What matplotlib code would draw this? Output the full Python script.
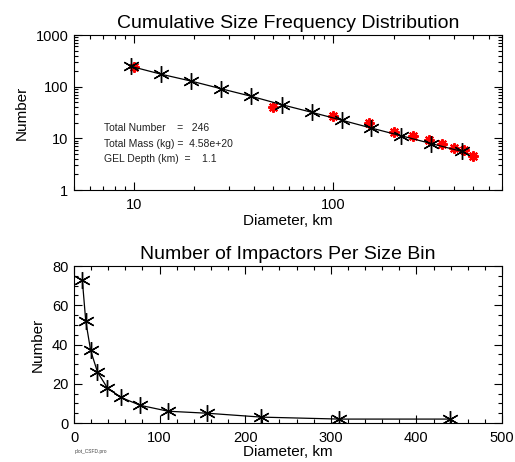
import matplotlib
matplotlib.use('Agg')
import matplotlib.pyplot as plt
from matplotlib.ticker import MultipleLocator, LogLocator, NullFormatter, FixedLocator

plt.rcParams['font.family'] = ['Liberation Sans', 'DejaVu Sans']

# cumulative size frequency (black, fitted) and observed (red)
cum_diam = [9.7, 13.7, 19.4, 27.4, 38.8, 54.9, 77.6, 110, 155, 219, 310, 439]
cum_num = [246, 174, 128, 91, 65, 45, 32, 22.5, 15.8, 11.2, 7.9, 5.6]
obs_diam = [10, 50, 100, 150, 200, 250, 300, 350, 400, 450, 500]
obs_num = [240, 41, 27.5, 19.7, 13.2, 11.2, 9.1, 7.8, 6.5, 6.0, 4.6]

# impactors per size bin
bin_diam = cum_diam
bin_num = [73, 52, 37, 26, 18, 13, 9, 6, 5, 3, 2, 2]

info_lines = ['Total Number    =   246',
              'Total Mass (kg) =  4.58e+20',
              'GEL Depth (km)  =    1.1']

fig = plt.figure(figsize=(5.15, 4.62), dpi=100)
ax1 = fig.add_axes([0.1437, 0.5887, 0.8311, 0.3355])
ax2 = fig.add_axes([0.1437, 0.0844, 0.8311, 0.3398])

star_black = dict(marker=(6, 2, 0), markersize=12, markeredgewidth=1.0,
                  color='k', markeredgecolor='k')

# top panel
ax1.plot(obs_diam, obs_num, linestyle='none', marker=(8, 2, 0), markersize=7.5,
         markeredgewidth=1.5, markeredgecolor='red', color='red')
ax1.plot(cum_diam, cum_num, '-', lw=0.9, **star_black)
ax1.set_xscale('log')
ax1.set_yscale('log')
ax1.set_xlim(5, 700)
ax1.set_ylim(1, 1000)
ax1.xaxis.set_major_locator(FixedLocator([10, 100]))
ax1.xaxis.set_major_formatter(matplotlib.ticker.FixedFormatter(['10', '100']))
ax1.xaxis.set_minor_locator(LogLocator(base=10, subs=range(2, 10)))
ax1.xaxis.set_minor_formatter(NullFormatter())
ax1.yaxis.set_major_locator(FixedLocator([1, 10, 100, 1000]))
ax1.yaxis.set_major_formatter(matplotlib.ticker.FixedFormatter(['1', '10', '100', '1000']))
ax1.yaxis.set_minor_locator(LogLocator(base=10, subs=range(2, 10)))
ax1.yaxis.set_minor_formatter(NullFormatter())
ax1.set_title('Cumulative Size Frequency Distribution', fontsize=14, pad=5)
ax1.set_xlabel('Diameter, km', fontsize=11, labelpad=1)
ax1.set_ylabel('Number', fontsize=11, labelpad=5)
for i, line in enumerate(info_lines):
    ax1.text(0.07, 0.403 - i * 0.103, line, transform=ax1.transAxes,
             fontsize=7.5, va='center', ha='left', color='#222222')

# bottom panel
ax2.plot(bin_diam, bin_num, '-', lw=0.9, **star_black)
ax2.set_xlim(0, 500)
ax2.set_ylim(0, 80)
ax2.xaxis.set_major_locator(MultipleLocator(100))
ax2.xaxis.set_minor_locator(MultipleLocator(20))
ax2.yaxis.set_major_locator(MultipleLocator(20))
ax2.yaxis.set_minor_locator(MultipleLocator(5))
ax2.set_title('Number of Impactors Per Size Bin', fontsize=14, pad=5)
ax2.set_xlabel('Diameter, km', fontsize=11, labelpad=0)
ax2.set_ylabel('Number', fontsize=11, labelpad=5)

for ax in (ax1, ax2):
    ax.tick_params(which='both', direction='in', top=True, right=True,
                   labelsize=10.5, width=0.8)
    ax.tick_params(which='major', length=6)
    ax.tick_params(which='minor', length=3)
    ax.tick_params(axis='x', which='major', pad=6)
    ax.tick_params(axis='y', which='major', pad=4)
    for s in ax.spines.values():
        s.set_linewidth(0.8)

fig.text(0.145, 0.022, 'plot_CSFD.pro', fontsize=3.5, ha='left', va='center',
         color='#444444')

fig.savefig('out.png', dpi=100)
